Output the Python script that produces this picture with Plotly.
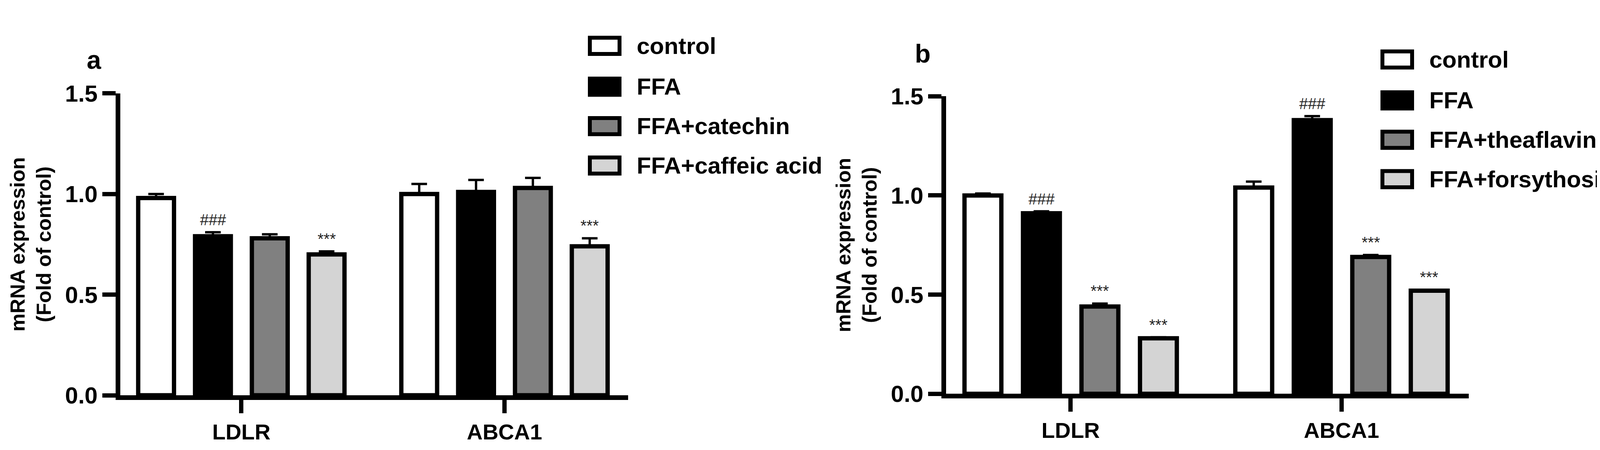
import plotly.graph_objects as go

genes = ["LDLR", "ABCA1"]
groups_a = ["control", "FFA", "FFA+catechin", "FFA+caffeic acid"]
groups_b = ["control", "FFA", "FFA+theaflavin", "FFA+forsythoside A"]
vals_a = [[0.98, 1.00], [0.79, 1.01], [0.78, 1.03], [0.70, 0.74]]
errs_a = [[0.02, 0.05], [0.02, 0.06], [0.02, 0.05], [0.015, 0.04]]
marks_a = [["", ""], ["###", ""], ["", ""], ["***", "***"]]
vals_b = [[1.00, 1.04], [0.91, 1.38], [0.44, 0.69], [0.28, 0.52]]
errs_b = [[0.01, 0.03], [0.01, 0.02], [0.015, 0.01], [0.005, 0.005]]
marks_b = [["", ""], ["###", "###"], ["***", "***"], ["***", "***"]]
colors = ["#ffffff", "#000000", "#808080", "#d4d4d4"]

FONT = "Liberation Sans Narrow, Liberation Sans, Arial, sans-serif"
W, H = 4288, 1151
fig = go.Figure()
slot = 0.216
ann, shapes = [], []
for panel, (groups, vals, errs, marks, xa, ya) in enumerate([
        (groups_a, vals_a, errs_a, marks_a, "x", "y"),
        (groups_b, vals_b, errs_b, marks_b, "x2", "y2")]):
    for i, g in enumerate(groups):
        fig.add_trace(go.Bar(
            x=genes, y=vals[i], name=g, xaxis=xa, yaxis=ya, showlegend=False,
            marker=dict(color=colors[i], line=dict(color="black", width=11)),
            error_y=dict(type="data", array=errs[i], arrayminus=[0, 0], symmetric=False,
                         color="black", thickness=6, width=20)))
        for j in range(2):
            if marks[i][j]:
                ann.append(dict(x=j + (i - 1.5) * slot, y=vals[i][j] + errs[i][j],
                                xref=xa, yref=ya, text=marks[i][j], showarrow=False,
                                yanchor="bottom", yshift=8,
                                font=dict(size=40, family="Liberation Sans", color="#222")))

# manual legends (box + label) for each panel
legend_specs = [(groups_a, 1502, [81, 192, 299, 406]), (groups_b, 3531, [118, 229, 336, 443])]
for groups, bx, rows in legend_specs:
    for i, g in enumerate(groups):
        yc = rows[i]
        shapes.append(dict(type="rect", xref="paper", yref="paper",
                           x0=bx / W, x1=(bx + 76) / W, y0=1 - (yc + 22) / H, y1=1 - (yc - 22) / H,
                           fillcolor=colors[i], line=dict(color="black", width=10)))
        ann.append(dict(x=(bx + 118) / W, y=1 - yc / H, xref="paper", yref="paper", text=g,
                        showarrow=False, xanchor="left", yanchor="middle",
                        font=dict(size=60, family=FONT, color="black", weight="bold")))

ann.append(dict(x=212/W, y=1-77/H, xref="paper", yref="paper", text="a",
                showarrow=False, font=dict(size=66, family="Liberation Sans", color="black", weight="bold")))
ann.append(dict(x=2354/W, y=1-61/H, xref="paper", yref="paper", text="b",
                showarrow=False, font=dict(size=66, family="Liberation Sans", color="black", weight="bold")))

xcommon = dict(type="category", range=[-0.46, 1.47], showline=True, linewidth=12, linecolor="black",
               ticks="outside", ticklen=34, tickwidth=11, tickcolor="black",
               tickfont=dict(size=56, family=FONT, color="black", weight="bold"),
               showgrid=False, zeroline=False)
ycommon = dict(range=[0, 1.5], tickvals=[0, 0.5, 1.0, 1.5], ticktext=["0.0", "0.5", "1.0", "1.5"],
               showline=True, linewidth=12, linecolor="black", ticks="outside", ticklen=34,
               tickwidth=11, tickcolor="black", showgrid=False, zeroline=False,
               tickfont=dict(size=60, family=FONT, color="black", weight="bold"),
               title=dict(text="<b>mRNA expression<br>(Fold of control)</b>", standoff=24,
                          font=dict(size=52, family="Liberation Sans, Arial", color="black")))

fig.update_layout(
    width=W, height=H, plot_bgcolor="white", paper_bgcolor="white",
    margin=dict(l=0, r=0, t=0, b=0), barmode="group", bargap=0.136, bargroupgap=0.37,
    xaxis=dict(domain=[300/W, 1600/W], anchor="y", **xcommon),
    yaxis=dict(domain=[1-1030/H, 1-210/H], anchor="x", **ycommon),
    xaxis2=dict(domain=[2414/W, 3752/W], anchor="y2", **xcommon),
    yaxis2=dict(domain=[1-1026/H, 1-218/H], anchor="x2", **ycommon),
    annotations=ann, shapes=shapes, showlegend=False)
fig.write_html("out.html")
